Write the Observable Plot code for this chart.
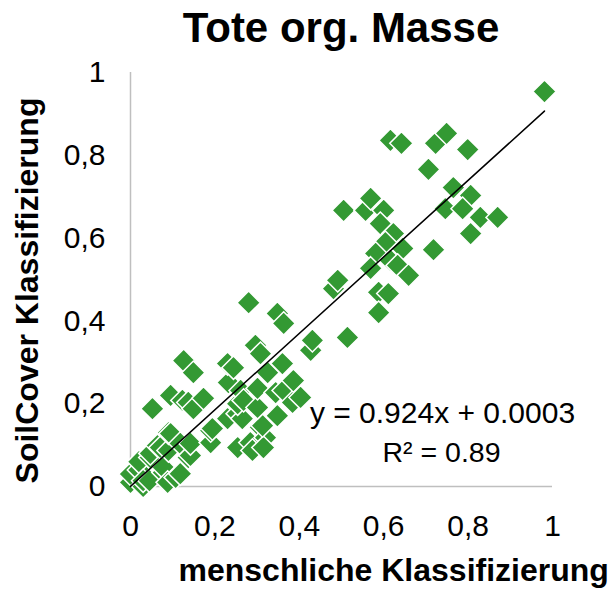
<!DOCTYPE html>
<html><head><meta charset="utf-8">
<script src="https://cdn.jsdelivr.net/npm/d3@7"></script>
<script src="https://cdn.jsdelivr.net/npm/@observablehq/plot@0.6"></script>
<style>
body{margin:0;background:#fff;font-family:"Liberation Sans",Arial,sans-serif;}
#title{height:58px;width:610px;position:relative;}
#title span{position:absolute;left:341px;top:7px;transform:translateX(-50%);font-weight:bold;font-size:42px;line-height:1;white-space:nowrap;color:#000;}
#chart svg{display:block;overflow:visible;}
</style></head><body>
<div id="title"><span>Tote org. Masse</span></div>
<div id="chart"></div>
<script>
const titleText = "Tote org. Masse";
const xLabel = "menschliche Klassifizierung";
const yLabel = "SoilCover Klassifizierung";
const xTicks = [0, 0.2, 0.4, 0.6, 0.8, 1];
const yTicks = [0, 0.2, 0.4, 0.6, 0.8, 1];
const equationText = "y = 0.924x + 0.0003";
const r2Text = "R² = 0.89";
const slope = 0.924;
const intercept = 0.0003;
const trendXRange = [0, 0.981];

const humanX = [
  0.00,0.00,0.02,0.02,0.03,0.03,0.045,0.047,0.047,0.064,0.071,0.078,0.078,0.088,0.09,0.09,0.095,0.107,0.118,0.118,0.137,0.142,0.142,0.19,0.19,0.194,0.23,0.254,0.265,0.254,0.284,0.289,0.308,0.32,0.315,0.313,0.348,
  0.052,0.095,0.123,0.137,0.149,0.173,0.126,0.149,0.232,0.23,0.244,0.254,0.261,0.268,0.296,0.308,0.301,0.301,0.325,0.344,0.36,0.363,0.384,0.386,0.403,0.28,0.348,0.363,0.427,0.431,
  0.481,0.491,0.514,0.505,0.557,0.569,0.60,0.592,0.623,0.604,0.581,0.645,0.616,0.569,0.633,0.659,0.588,0.611,0.588,0.616,0.642,0.723,0.749,0.799,0.706,0.765,0.806,0.746,0.787,0.829,0.87,0.806,0.718,0.981
];
const soilCoverY = [
  0.01,0.03,0.04,0.06,0.00,0.014,0.014,0.07,0.08,0.099,0.094,0.034,0.046,0.01,0.087,0.13,0.128,0.022,0.031,0.104,0.07,0.075,0.104,0.106,0.135,0.14,0.164,0.176,0.164,0.094,0.106,0.087,0.143,0.118,0.094,0.147,0.171,
  0.188,0.22,0.208,0.203,0.188,0.213,0.304,0.275,0.251,0.297,0.287,0.20,0.232,0.208,0.341,0.321,0.191,0.237,0.275,0.227,0.297,0.232,0.203,0.256,0.215,0.444,0.418,0.394,0.329,0.353,
  0.478,0.498,0.36,0.667,0.667,0.696,0.667,0.635,0.611,0.589,0.563,0.575,0.546,0.527,0.534,0.51,0.469,0.466,0.42,0.836,0.829,0.829,0.853,0.814,0.766,0.722,0.703,0.671,0.671,0.65,0.65,0.611,0.572,0.954
];

const points = humanX.map((x, i) => ({x, y: soilCoverY[i]}));
const trend = trendXRange.map(x => ({x, y: slope * x + intercept}));
const fmt = d => String(d).replace(".", ",");
const font = '"Liberation Sans", Arial, sans-serif';

const chart = Plot.plot({
  width: 610, height: 531,
  marginTop: 14, marginBottom: 103, marginLeft: 130, marginRight: 58,
  x: {domain: [0, 1]},
  y: {domain: [0, 1]},
  style: {fontFamily: font, background: "white", color: "#000", overflow: "visible"},
  marks: [
    Plot.ruleX([0], {stroke: "#bfbfbf", strokeWidth: 1.5}),
    Plot.ruleY([0], {stroke: "#bfbfbf", strokeWidth: 1.5}),
    Plot.axisX({ticks: xTicks, tickSize: 0, tickPadding: 28, tickFormat: fmt, fontSize: 30, label: null}),
    Plot.axisY({ticks: yTicks, tickSize: 0, tickPadding: 25, tickFormat: fmt, fontSize: 30, label: null}),
    Plot.dot(points, {x: "x", y: "y", symbol: "diamond2", r: 10.5, fill: "#339933", stroke: "white", strokeWidth: 1.5}),
    Plot.line(trend, {x: "x", y: "y", stroke: "black", strokeWidth: 1.5}),
    Plot.text([equationText], {frameAnchor: "top-left", dx: 312, dy: 341, fontSize: 30, textAnchor: "middle", lineAnchor: "middle", fill: "#000"}),
    Plot.text([r2Text], {frameAnchor: "top-left", dx: 311, dy: 380, fontSize: 28.5, textAnchor: "middle", lineAnchor: "middle", fill: "#000"}),
    Plot.text([xLabel], {frameAnchor: "bottom-left", dx: 48, dy: 94, fontSize: 32, fontWeight: "bold", textAnchor: "start", lineAnchor: "bottom", fill: "#000"}),
    Plot.text([yLabel], {frameAnchor: "left", dx: -93, dy: 11, rotate: -90, fontSize: 32, fontWeight: "bold", textAnchor: "middle", lineAnchor: "bottom", fill: "#000"})
  ]
});
document.getElementById("chart").appendChild(chart);
</script>
</body></html>
